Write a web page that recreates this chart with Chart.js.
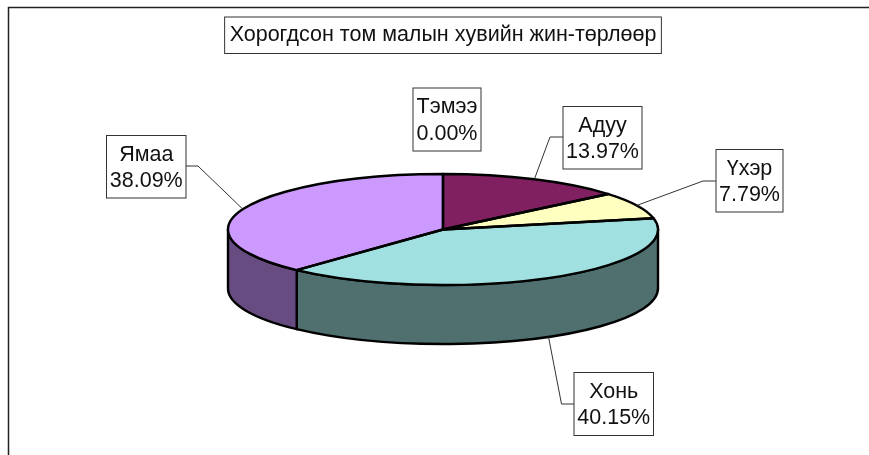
<!DOCTYPE html>
<html>
<head>
<meta charset="utf-8">
<title>Хорогдсон том малын хувийн жин-төрлөөр</title>
<style>
    html, body { margin: 0; padding: 0; background: #fff; }
    canvas { display: block; }
</style>
<script src="https://cdn.jsdelivr.net/npm/chart.js@4"></script>
</head>
<body>
<canvas id="pie-chart" width="869" height="455"></canvas>
<script>
// data
const chartTitle = 'Хорогдсон том малын хувийн жин-төрлөөр';
const categories = ['Адуу', 'Үхэр', 'Хонь', 'Ямаа', 'Тэмээ'];
const shares = [13.97, 7.79, 40.15, 38.09, 0.00];

// colors of top face and of the darker side wall
const topColors = ['#802060', '#FFFFC0', '#A0E0E0', '#CC99FF', '#FFFFFF'];
const wallColors = ['#401030', '#808060', '#507070', '#664C80', '#808080'];

// pie look
const fontName = '"Liberation Sans", Arial, sans-serif';
const pieRadius = 215;
const flatten = 55.5 / 215; // vertical squash of the pie
const depth = 59; // height of the wall
const rimWidth = 2.4;

// label boxes, same order as categories. elbow is where the leader line bends
const labelBoxes = [
    { x: 563, y: 106.5, w: 79, h: 62.5, elbow: [550, 137], from: [563, 137] },
    { x: 716, y: 149.5, w: 67, h: 62.5, elbow: [703, 181], from: [716, 181] },
    { x: 574, y: 372.5, w: 79.5, h: 63, elbow: [561.5, 404], from: [574, 404] },
    { x: 106.5, y: 135.5, w: 79.5, h: 62.5, elbow: [198, 166], from: [186, 166] },
    { x: 413, y: 88, w: 68, h: 63, elbow: null, from: null }
];

// side wall, only the part of each slice facing us (0 to PI on the canvas)
function drawWall(chart) {
    const ctx = chart.ctx;
    const arcs = chart.getDatasetMeta(0).data;
    arcs.forEach((arc, i) => {
        const a0 = Math.max(arc.startAngle, 0);
        const a1 = Math.min(arc.endAngle, Math.PI);
        if (a1 <= a0) return;
        const rx = arc.outerRadius;
        const ry = rx * flatten;
        ctx.save();
        ctx.beginPath();
        ctx.moveTo(arc.x + rx * Math.cos(a0), arc.y + ry * Math.sin(a0));
        ctx.ellipse(arc.x, arc.y, rx, ry, 0, a0, a1);
        ctx.lineTo(arc.x + rx * Math.cos(a1), arc.y + depth + ry * Math.sin(a1));
        ctx.ellipse(arc.x, arc.y + depth, rx, ry, 0, a1, a0, true);
        ctx.closePath();
        ctx.fillStyle = wallColors[i];
        ctx.fill();
        ctx.lineWidth = rimWidth;
        ctx.lineJoin = 'round';
        ctx.strokeStyle = '#000';
        ctx.stroke();
        ctx.restore();
    });
}

// slice outlines, stroked without the squash so the line width stays even
function drawOutlines(chart) {
    const ctx = chart.ctx;
    const arcs = chart.getDatasetMeta(0).data;
    arcs.forEach((arc) => {
        if (arc.endAngle <= arc.startAngle) return;
        const ry = arc.outerRadius * flatten;
        ctx.save();
        ctx.beginPath();
        ctx.moveTo(arc.x, arc.y);
        ctx.ellipse(arc.x, arc.y, arc.outerRadius, ry, 0, arc.startAngle, arc.endAngle);
        ctx.closePath();
        ctx.lineWidth = rimWidth;
        ctx.lineJoin = 'round';
        ctx.strokeStyle = '#000';
        ctx.stroke();
        ctx.restore();
    });
}

function drawLabels(chart) {
    const ctx = chart.ctx;
    const arcs = chart.getDatasetMeta(0).data;
    ctx.save();
    ctx.font = '21.5px ' + fontName;
    ctx.textAlign = 'center';
    ctx.textBaseline = 'alphabetic';
    labelBoxes.forEach((box, i) => {
        const arc = arcs[i];
        if (box.elbow) {
            // leader line goes to the rim at the middle of the slice
            const mid = (arc.startAngle + arc.endAngle) / 2;
            const front = Math.sin(mid) > 0 ? depth : 0;
            const px = arc.x + arc.outerRadius * Math.cos(mid);
            const py = arc.y + arc.outerRadius * flatten * Math.sin(mid) + front;
            ctx.beginPath();
            ctx.moveTo(box.from[0], box.from[1]);
            ctx.lineTo(box.elbow[0], box.elbow[1]);
            ctx.lineTo(px, py);
            ctx.lineWidth = 1;
            ctx.strokeStyle = '#333';
            ctx.stroke();
        }
        ctx.fillStyle = '#fff';
        ctx.fillRect(box.x, box.y, box.w, box.h);
        ctx.lineWidth = 1;
        ctx.strokeStyle = '#333';
        ctx.strokeRect(box.x, box.y, box.w, box.h);
        ctx.fillStyle = '#111';
        ctx.fillText(categories[i], box.x + box.w / 2, box.y + 25);
        ctx.fillText(shares[i].toFixed(2) + '%', box.x + box.w / 2, box.y + 51.5);
    });
    ctx.restore();
}

const pie3d = {
    id: 'pie3d',
    beforeDraw(chart) {
        const ctx = chart.ctx;
        ctx.save();
        ctx.fillStyle = '#fff';
        ctx.fillRect(0, 0, chart.width, chart.height);

        // outer frame, its right and bottom edges are cut off by the picture
        ctx.strokeStyle = '#222';
        ctx.lineWidth = 1.5;
        ctx.beginPath();
        ctx.moveTo(8.5, 455);
        ctx.lineTo(8.5, 7.5);
        ctx.lineTo(869, 7.5);
        ctx.stroke();

        // box round the title
        const block = chart.titleBlock;
        ctx.font = '21.5px ' + fontName;
        const textWidth = ctx.measureText(chartTitle).width;
        const center = (block.left + block.right) / 2;
        ctx.lineWidth = 1;
        ctx.strokeStyle = '#333';
        ctx.strokeRect(center - textWidth / 2 - 5, block.top, textWidth + 10, block.height);
        ctx.restore();
    },
    beforeDatasetsDraw(chart) {
        drawWall(chart);
        // squash the pie the library draws
        const ctx = chart.ctx;
        const arc = chart.getDatasetMeta(0).data[0];
        ctx.save();
        ctx.translate(arc.x, arc.y);
        ctx.scale(1, flatten);
        ctx.translate(-arc.x, -arc.y);
    },
    afterDatasetsDraw(chart) {
        chart.ctx.restore();
        drawOutlines(chart);
        drawLabels(chart);
    }
};

const pieChart = new Chart(document.getElementById('pie-chart'), {
    type: 'pie',
    data: {
        labels: categories,
        datasets: [{
            data: shares,
            backgroundColor: topColors,
            borderWidth: 0,
            radius: pieRadius
        }]
    },
    options: {
        responsive: false,
        animation: false,
        layout: {
            padding: { left: 17, right: 0, top: 17, bottom: 49.5 }
        },
        plugins: {
            legend: { display: false },
            tooltip: { enabled: false },
            title: {
                display: true,
                text: chartTitle,
                color: '#111',
                font: { family: fontName, size: 21.5, weight: 'normal', lineHeight: 1.2 },
                padding: { top: 5.35, bottom: 5.35 }
            }
        }
    },
    plugins: [pie3d]
});
</script>
</body>
</html>
